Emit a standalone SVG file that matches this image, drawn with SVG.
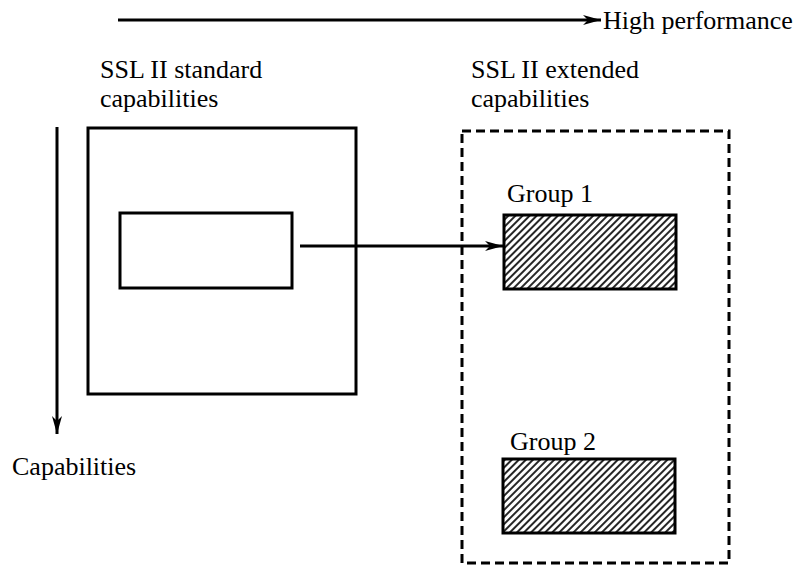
<svg xmlns="http://www.w3.org/2000/svg" width="803" height="568" viewBox="0 0 803 568">
<style>
  .lbl { font-family: 'Liberation Serif', 'Times New Roman', serif; font-size: 26px; fill: #000; }
  .box { fill: none; stroke: #000; stroke-width: 3; }
  .dash { fill: none; stroke: #000; stroke-width: 3; stroke-dasharray: 9 5; }
  .hatch { fill: url(#hatch); stroke: #000; stroke-width: 3; }
  .conn { fill: none; stroke: #000; stroke-width: 3; }
</style>
<defs>
  <pattern id="hatch" patternUnits="userSpaceOnUse" width="5" height="10" patternTransform="rotate(45)">
    <rect width="5" height="10" fill="#fff"/>
    <line x1="2" y1="0" x2="2" y2="10" stroke="#000" stroke-width="1.7"/>
  </pattern>
  <marker id="arrow" viewBox="0 0 18 10" refX="18" refY="5" markerWidth="18" markerHeight="10" markerUnits="userSpaceOnUse" orient="auto">
    <path d="M0,0 L18,5 L0,10 L5,5 Z" fill="#000"/>
  </marker>
</defs>
<rect width="803" height="568" fill="#fff"/>

<g id="axis-performance">
  <line class="conn" x1="118" y1="20" x2="601" y2="20" marker-end="url(#arrow)"/>
  <text class="lbl" x="603" y="29">High performance</text>
</g>

<g id="axis-capabilities">
  <line class="conn" x1="57" y1="127" x2="57" y2="434" marker-end="url(#arrow)"/>
  <text class="lbl" x="12" y="475">Capabilities</text>
</g>

<g id="standard">
  <text class="lbl" x="100" y="78">SSL II standard</text>
  <text class="lbl" x="100" y="107">capabilities</text>
  <rect class="box" x="88" y="128" width="268" height="266"/>
</g>

<g id="standard-inner">
  <rect class="box" x="120" y="213" width="172" height="75"/>
</g>

<g id="extended">
  <text class="lbl" x="471" y="78">SSL II extended</text>
  <text class="lbl" x="471" y="107">capabilities</text>
  <rect class="dash" x="462" y="131" width="267" height="432"/>
</g>

<g id="group1">
  <text class="lbl" x="507" y="202">Group 1</text>
  <rect class="hatch" x="504" y="215" width="172" height="74"/>
</g>

<g id="group2">
  <text class="lbl" x="510" y="450">Group 2</text>
  <rect class="hatch" x="503" y="459" width="172" height="74"/>
</g>

<g id="connectors">
  <line class="conn" x1="300" y1="246" x2="503" y2="246" marker-end="url(#arrow)"/>
</g>
</svg>
